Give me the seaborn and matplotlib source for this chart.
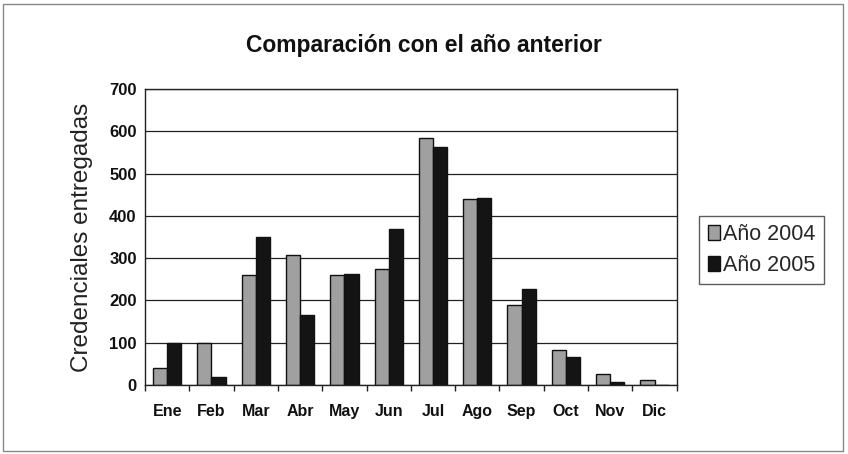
import pandas as pd
import matplotlib.pyplot as plt
import seaborn as sns
from matplotlib.patches import Rectangle

# datos
meses = ['Ene', 'Feb', 'Mar', 'Abr', 'May', 'Jun', 'Jul', 'Ago', 'Sep', 'Oct', 'Nov', 'Dic']
anio_2004 = [40, 100, 260, 308, 260, 275, 583, 440, 188, 82, 27, 12]
anio_2005 = [100, 20, 350, 165, 263, 370, 562, 443, 228, 67, 8, 0]
series = ['Año 2004', 'Año 2005']

df = pd.DataFrame({
    'mes': meses * 2,
    'valor': anio_2004 + anio_2005,
    'serie': [series[0]] * len(meses) + [series[1]] * len(meses),
})

sns.set_theme(style='white')
plt.rcParams['font.family'] = ['Liberation Sans', 'DejaVu Sans']

fig = plt.figure(figsize=(8.48, 4.54), dpi=100)
ax = fig.add_axes([0.171, 0.152, 0.627, 0.652])

sns.barplot(data=df, x='mes', y='valor', hue='serie', order=meses, hue_order=series,
            palette={'Año 2004': '#a0a0a0', 'Año 2005': '#141414'},
            width=0.64, gap=0, edgecolor='#111111', linewidth=1.0, saturation=1,
            ax=ax)

ax.set_ylim(0, 700)
ax.set_yticks(range(0, 701, 100))
ax.yaxis.grid(True, color='#222222', linewidth=0.9)
ax.set_axisbelow(True)
for s in ax.spines.values():
    s.set_color('#222222')
    s.set_linewidth(1.0)

ax.set_xlabel('')
ax.set_ylabel('Credenciales entregadas', fontsize=17.5, color='#222222', labelpad=12)
ax.tick_params(axis='y', labelsize=12, colors='#111111', pad=6, length=0)
ax.tick_params(axis='x', labelsize=11.5, colors='#111111', pad=14)
for lab in ax.get_xticklabels() + ax.get_yticklabels():
    lab.set_fontweight('bold')

# marcas entre categorias, estilo Excel
ax.set_xticks([i - 0.5 for i in range(len(meses) + 1)], minor=True)
ax.tick_params(axis='x', which='minor', length=4, width=1, color='#222222', bottom=True)
ax.tick_params(axis='x', which='major', length=0)
ax.set_xlim(-0.5, len(meses) - 0.5)

fig.text(0.5, 0.899, 'Comparación con el año anterior', fontsize=16.5, fontweight='bold',
         ha='center', va='center', color='#111111')

leg = ax.legend(loc='center left', bbox_to_anchor=(1.03, 0.456), frameon=True,
                fontsize=15.5, handlelength=0.55, handleheight=0.7, handletextpad=0.15,
                borderpad=0.4, labelspacing=0.45, fancybox=False, borderaxespad=0.3)
leg.get_frame().set_edgecolor('#333333')
leg.get_frame().set_linewidth(1.0)

# borde del grafico
fig.patches.append(Rectangle((0.004, 0.006), 0.99, 0.985, transform=fig.transFigure,
                             fill=False, edgecolor='#888888', linewidth=1.0))

fig.savefig('out.png', dpi=100)
